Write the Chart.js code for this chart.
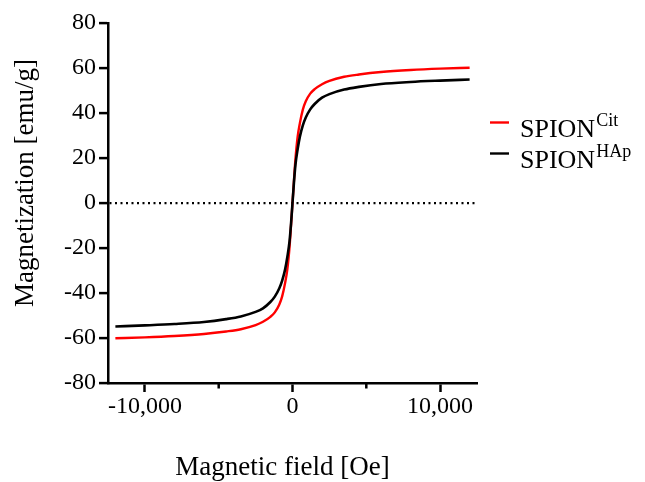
<!DOCTYPE html>
<html>
<head>
<meta charset="utf-8">
<script src="https://cdn.jsdelivr.net/npm/chart.js@4.4.1/dist/chart.umd.min.js"></script>
<style>
  html, body { margin: 0; padding: 0; background: #fff; }
  #wrap { width: 645px; height: 482px; position: relative; }
</style>
</head>
<body>
<div id="wrap"><canvas id="mh-chart"></canvas></div>
<script>
// applied field (Oe) and magnetization (emu/g)
const fieldOe = [-12000, -10000, -8000, -6000, -4500, -3500, -2500, -2000, -1500, -1200, -900, -700, -500, -350, -200, -100,
  0, 100, 200, 350, 500, 700, 900, 1200, 1500, 2000, 2500, 3500, 4500, 6000, 8000, 10000, 12000];
const magCit = [-60.1, -59.7, -59.1, -58.2, -57.1, -56.1, -54.3, -52.8, -50.6, -48.6, -45.2, -41.5, -35.5, -29.5, -19.5, -10.0,
  0, 10.0, 19.5, 29.5, 35.5, 41.5, 45.2, 48.6, 50.6, 52.8, 54.3, 56.1, 57.1, 58.2, 59.1, 59.7, 60.1];
const magHAp = [-54.9, -54.4, -53.8, -52.9, -51.6, -50.4, -48.4, -46.8, -44.0, -41.6, -38.0, -34.5, -29.5, -24.0, -17.0, -9.3,
  0, 9.3, 17.0, 24.0, 29.5, 34.5, 38.0, 41.6, 44.0, 46.8, 48.4, 50.4, 51.6, 52.9, 53.8, 54.4, 54.9];

const seriesNames = ['SPION', 'SPION'];
const seriesSups = ['Cit', 'HAp'];
const seriesColors = ['#ff0000', '#000000'];

const xTickValues = [-10000, 0, 10000];
const xMinorTicks = [-5000, 5000];
const yTickValues = [-80, -60, -40, -20, 0, 20, 40, 60, 80];

const xTitle = 'Magnetic field [Oe]';
const yTitle = 'Magnetization [emu/g]';

const FONT = '"Liberation Serif", "Times New Roman", serif';

function toPoints(ys) {
  return fieldOe.map((x, i) => ({ x, y: ys[i] }));
}

// minor x ticks, axis titles and the legend with superscripts
const decorPlugin = {
  id: 'decor',
  afterDraw(chart) {
    const { ctx, chartArea, scales } = chart;
    ctx.save();
    ctx.strokeStyle = '#000';
    ctx.lineWidth = 2.5;
    xMinorTicks.forEach(v => {
      const px = scales.x.getPixelForValue(v);
      ctx.beginPath();
      ctx.moveTo(px, chartArea.bottom);
      ctx.lineTo(px, chartArea.bottom + 5.5);
      ctx.stroke();
    });

    ctx.fillStyle = '#000';
    ctx.font = `27px ${FONT}`;
    ctx.textAlign = 'center';
    ctx.textBaseline = 'alphabetic';
    ctx.fillText(xTitle, (chartArea.left + chartArea.right) / 2 - 10, 475);
    ctx.save();
    ctx.translate(33, (chartArea.top + chartArea.bottom) / 2 - 20);
    ctx.rotate(-Math.PI / 2);
    ctx.fillText(yTitle, 0, 0);
    ctx.restore();

    ctx.textAlign = 'left';
    seriesNames.forEach((name, i) => {
      const base = 136.5 + i * 31;
      ctx.strokeStyle = seriesColors[i];
      ctx.lineWidth = 2.4;
      ctx.beginPath();
      ctx.moveTo(chartArea.right + 13, base - 14);
      ctx.lineTo(chartArea.right + 32, base - 14);
      ctx.stroke();
      const tx = chartArea.right + 43;
      ctx.font = `26px ${FONT}`;
      ctx.fillText(name, tx, base);
      const w = ctx.measureText(name).width;
      ctx.font = `18px ${FONT}`;
      ctx.fillText(seriesSups[i], tx + w + 1, base - 10.5);
    });
    ctx.restore();
  }
};

new Chart(document.getElementById('mh-chart'), {
  type: 'line',
  data: {
    datasets: [
      {
        label: seriesNames[0] + seriesSups[0],
        data: toPoints(magCit),
        borderColor: seriesColors[0],
        borderWidth: 2.4,
        pointRadius: 0,
        cubicInterpolationMode: 'monotone',
        order: 1,
      },
      {
        label: seriesNames[1] + seriesSups[1],
        data: toPoints(magHAp),
        borderColor: seriesColors[1],
        borderWidth: 2.6,
        pointRadius: 0,
        cubicInterpolationMode: 'monotone',
        order: 0,
      },
    ],
  },
  options: {
    responsive: true,
    maintainAspectRatio: false,
    animation: false,
    layout: { padding: { top: 23, right: 168, bottom: 0, left: 0 } },
    plugins: {
      legend: { display: false },
      tooltip: { enabled: false },
    },
    scales: {
      x: {
        type: 'linear',
        min: -12500,
        max: 12500,
        afterBuildTicks: scale => { scale.ticks = xTickValues.map(v => ({ value: v })); },
        afterFit: scale => { scale.height = 99; },
        ticks: {
          color: '#000',
          font: { family: FONT, size: 24 },
          padding: 0,
          maxRotation: 0,
          callback: v => v.toLocaleString('en-US'),
        },
        grid: { drawOnChartArea: false, tickLength: 9, tickWidth: 2.5, tickColor: '#000' },
        border: { color: '#000', width: 2.5 },
      },
      y: {
        min: -80,
        max: 80,
        afterBuildTicks: scale => { scale.ticks = yTickValues.map(v => ({ value: v })); },
        afterFit: scale => { scale.width = 108; },
        ticks: {
          color: '#000',
          font: { family: FONT, size: 24 },
          padding: 3,
        },
        grid: {
          color: c => (c.tick && c.tick.value === 0 ? '#000' : 'rgba(0,0,0,0)'),
          lineWidth: 2.2,
          tickLength: 9,
          tickWidth: 2.5,
          tickColor: '#000',
        },
        border: { color: '#000', width: 2.5, dash: [2, 3.5] },
      },
    },
  },
  plugins: [decorPlugin],
});
</script>
</body>
</html>
